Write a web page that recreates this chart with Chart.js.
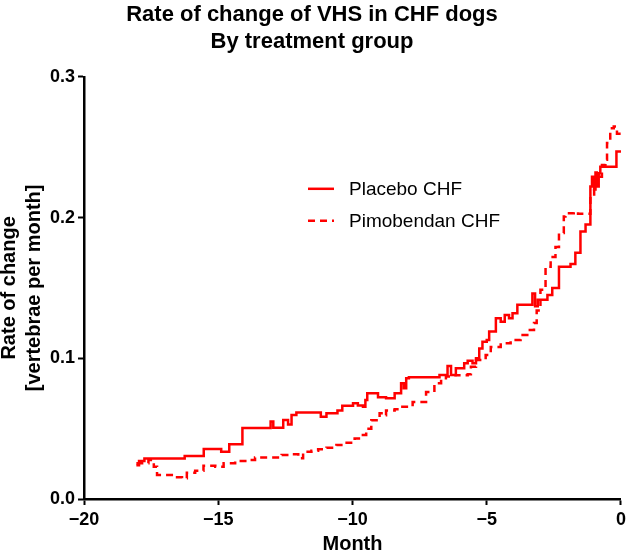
<!DOCTYPE html>
<html>
<head>
<meta charset="utf-8">
<script src="https://cdn.jsdelivr.net/npm/chart.js@4"></script>
<style>
  html, body { margin: 0; padding: 0; background: #fff; }
  #wrap { width: 630px; height: 557px; }
</style>
</head>
<body>
<div id="wrap"><canvas id="grafico" width="630" height="557"></canvas></div>
<script>
// Dados (mês, taxa de variação)
const placeboX = [-18.05, -17.95, -17.75, -16.25, -15.54, -14.89, -14.59, -14.10, -13.05, -12.95, -12.58, -12.40, -12.27, -12.09,
  -11.18, -10.97, -10.56, -10.38, -9.98, -9.80, -9.61, -9.52, -9.45, -9.05, -8.75, -8.43, -8.19, -8.09, -8.00, -7.90,
  -6.76, -6.46, -6.33, -6.15, -5.84, -5.71, -5.53, -5.40, -5.28, -5.16, -5.00, -4.91, -4.66, -4.48, -4.33, -4.17, -4.04,
  -3.86, -3.30, -3.20, -3.10, -2.74, -2.56, -2.31, -1.88, -1.70, -1.51, -1.32, -1.14, -1.08, -1.00, -0.95, -0.90, -0.83,
  -0.77, -0.17, 0];
const placeboY = [0.024, 0.027, 0.0287, 0.0306, 0.0355, 0.0336, 0.0389, 0.0505, 0.055, 0.0507, 0.0562, 0.053, 0.0597, 0.0614,
  0.0585, 0.061, 0.0628, 0.0663, 0.068, 0.0665, 0.0656, 0.0704, 0.0751, 0.0723, 0.0716, 0.0751, 0.0822, 0.0787, 0.0858, 0.0865,
  0.0881, 0.0945, 0.0881, 0.0929, 0.0964, 0.0983, 0.0964, 0.100, 0.107, 0.1118, 0.113, 0.119, 0.1285, 0.126, 0.1308, 0.1285, 0.132,
  0.138, 0.146, 0.137, 0.1415, 0.145, 0.150, 0.165, 0.167, 0.175, 0.190, 0.195, 0.222, 0.229, 0.220, 0.232, 0.222, 0.2315,
  0.236, 0.247, 0.247];

const pimoX = [-18.05, -17.60, -17.40, -17.28, -16.60, -16.35, -16.17, -15.86, -15.55, -15.11, -14.80, -14.37, -13.94, -13.63,
  -12.64, -12.33, -12.02, -11.84, -11.53, -11.28, -10.97, -10.60, -10.29, -9.92, -9.67, -9.49, -9.30, -8.99, -8.85, -8.75,
  -8.43, -8.19, -7.76, -7.26, -6.95, -6.70, -6.52, -6.21, -5.71, -5.59, -5.40, -5.04, -4.85, -4.48, -4.11, -3.74, -3.49,
  -3.24, -3.14, -3.00, -2.81, -2.62, -2.44, -2.31, -2.13, -2.07, -1.76, -1.60, -1.14, -1.00, -0.90, -0.71, -0.58, -0.52,
  -0.40, -0.27, -0.15, 0];
const pimoY = [0.0254, 0.0277, 0.023, 0.017, 0.0154, 0.0147, 0.0187, 0.020, 0.0237, 0.023, 0.0254, 0.027, 0.0277, 0.0294,
  0.0313, 0.0318, 0.029, 0.0336, 0.0343, 0.0353, 0.0365, 0.0384, 0.040, 0.043, 0.0455, 0.050, 0.056, 0.061, 0.0595, 0.0628,
  0.0638, 0.0656, 0.069, 0.076, 0.0822, 0.0858, 0.087, 0.088, 0.0886, 0.094, 0.0988, 0.1024, 0.108, 0.1107, 0.113, 0.1166, 0.120,
  0.125, 0.134, 0.1486, 0.165, 0.172, 0.179, 0.189, 0.2007, 0.203, 0.204, 0.2026, 0.215, 0.225, 0.229, 0.2374, 0.241, 0.253,
  0.2635, 0.2647, 0.2595, 0.2595];

const xTicks = [-20, -15, -10, -5, 0];
const yTicks = [0, 0.1, 0.2, 0.3];

function pontos(xs, ys) {
  return xs.map((x, i) => ({ x: x, y: ys[i] }));
}

// legenda desenhada dentro da área do gráfico
const legendaInterna = {
  id: 'legendaInterna',
  afterDatasetsDraw(chart) {
    const ctx = chart.ctx;
    const a = chart.chartArea;
    const x0 = a.left + 224;
    let y = a.top + 112;
    ctx.save();
    ctx.font = '19px "Liberation Sans", Arial, sans-serif';
    ctx.textBaseline = 'middle';
    chart.data.datasets.forEach(ds => {
      ctx.strokeStyle = ds.borderColor;
      ctx.lineWidth = ds.borderWidth;
      ctx.setLineDash(ds.borderDash || []);
      ctx.beginPath();
      ctx.moveTo(x0, y);
      ctx.lineTo(x0 + 26, y);
      ctx.stroke();
      ctx.setLineDash([]);
      ctx.fillStyle = '#000';
      ctx.fillText(ds.label, x0 + 41, y + 1);
      y += 32;
    });
    ctx.restore();
  }
};

const ctx = document.getElementById('grafico').getContext('2d');
new Chart(ctx, {
  type: 'line',
  data: {
    datasets: [{
      label: 'Placebo CHF',
      data: pontos(placeboX, placeboY),
      borderColor: '#ff0000',
      borderWidth: 2.5,
      stepped: true,
      pointRadius: 0,
      fill: false
    }, {
      label: 'Pimobendan CHF',
      data: pontos(pimoX, pimoY),
      borderColor: '#ff0000',
      borderWidth: 2.5,
      borderDash: [7, 5],
      stepped: true,
      pointRadius: 0,
      fill: false
    }]
  },
  options: {
    responsive: false,
    animation: false,
    layout: { padding: { left: 0, right: 6, top: 0, bottom: 0 } },
    plugins: {
      legend: { display: false },
      tooltip: { enabled: false },
      title: {
        display: true,
        text: ['Rate of change of VHS in CHF dogs', 'By treatment group'],
        color: '#000',
        font: { family: '"Liberation Sans", Arial, sans-serif', size: 22, weight: 'bold', lineHeight: 1.2 },
        padding: { top: 2, bottom: 22 }
      }
    },
    scales: {
      x: {
        type: 'linear',
        min: -20,
        max: 0,
        afterBuildTicks(scale) { scale.ticks = xTicks.map(v => ({ value: v })); },
        afterFit(scale) { scale.height = 58; },
        grid: { drawOnChartArea: false, color: '#000', tickLength: 6, tickWidth: 2 },
        border: { color: '#000', width: 2.5 },
        ticks: {
          color: '#000',
          padding: 4,
          maxRotation: 0,
          font: { family: '"Liberation Sans", Arial, sans-serif', size: 18, weight: 'bold' },
          callback: v => (v < 0 ? '\u2212' + Math.abs(v) : String(v))
        },
        title: {
          display: true,
          text: 'Month',
          color: '#000',
          padding: { top: 0, bottom: 1 },
          font: { family: '"Liberation Sans", Arial, sans-serif', size: 20, weight: 'bold', lineHeight: 1.2 }
        }
      },
      y: {
        type: 'linear',
        min: 0,
        max: 0.3,
        afterBuildTicks(scale) { scale.ticks = yTicks.map(v => ({ value: v })); },
        afterFit(scale) { scale.width = 84; },
        grid: { drawOnChartArea: false, color: '#000', tickLength: 6, tickWidth: 2 },
        border: { color: '#000', width: 2.5 },
        ticks: {
          color: '#000',
          padding: 3,
          font: { family: '"Liberation Sans", Arial, sans-serif', size: 18, weight: 'bold' },
          callback: v => Number(v).toFixed(1)
        },
        title: {
          display: true,
          text: ['Rate of change', '[vertebrae per month]'],
          color: '#000',
          padding: { top: -3, bottom: 0 },
          font: { family: '"Liberation Sans", Arial, sans-serif', size: 20, weight: 'bold', lineHeight: 1.25 }
        }
      }
    }
  },
  plugins: [legendaInterna]
});
</script>
</body>
</html>
